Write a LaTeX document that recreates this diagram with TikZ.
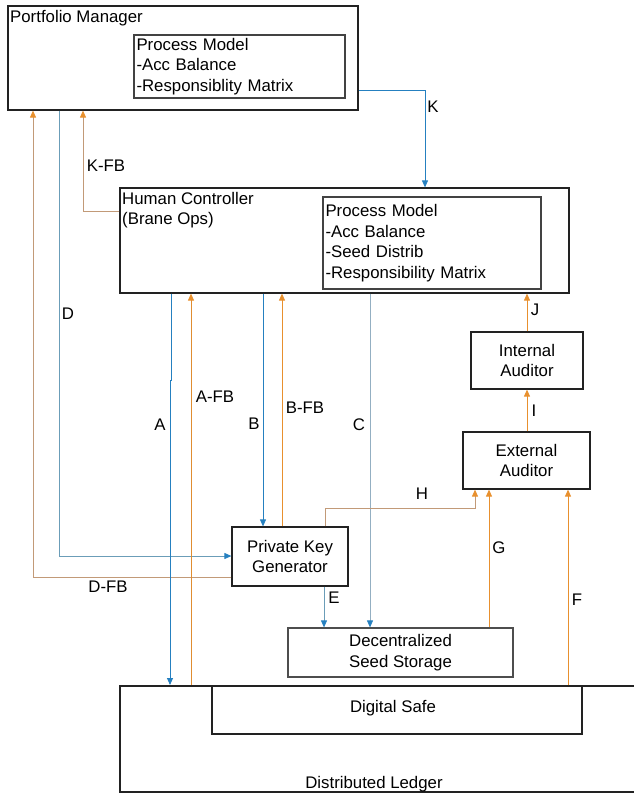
\documentclass[tikz,border=0pt]{standalone}
\usepackage{fontspec}
\setmainfont{Liberation Sans}
\usetikzlibrary{arrows.meta}
\definecolor{ctlblue}{HTML}{2580C0}
\definecolor{steel}{HTML}{6B9DB8}
\definecolor{greyblue}{HTML}{93AFC2}
\definecolor{fborange}{HTML}{E8902E}
\definecolor{tan}{HTML}{C29A78}
\definecolor{boxline}{HTML}{222222}
\tikzset{
  box/.style={draw=boxline, line width=1.2pt, rectangle, inner sep=2pt, align=center, font=\fontsize{16.8}{20.5}\selectfont},
  inbox/.style={draw=boxline!85, line width=1.1pt, rectangle, inner sep=2pt, align=left, font=\fontsize{16.8}{20.5}\selectfont},
  lbl/.style={font=\fontsize{16.8}{20}\selectfont, inner sep=0pt},
  ctl/.style={line width=0.85pt, -{Triangle[length=7pt,width=6pt,color=ctlblue]}},
  fb/.style={line width=0.85pt, -{Triangle[length=7pt,width=6pt,color=fborange]}},
}
\begin{document}
\begin{tikzpicture}[x=1pt,y=-1pt]
\useasboundingbox (0,0) rectangle (634,793);
% boxes
\node[box, minimum width=350pt, minimum height=104pt] (pm) at (183,58) {};
\node[lbl, anchor=north west] (pmt) at (10,10) {Portfolio Manager};
\node[inbox, minimum width=211pt, minimum height=63pt, text width=206pt] (pmin) at (239.5,66.5) {Process Model\\-Acc Balance\\-Responsiblity Matrix};
\node[box, minimum width=449pt, minimum height=105pt] (hc) at (344.5,240.5) {};
\node[lbl, anchor=north west, align=left, font=\fontsize{16.8}{20.5}\selectfont] (hct) at (122,192) {Human Controller\\(Brane Ops)};
\node[inbox, minimum width=218pt, minimum height=92pt, text width=213pt] (hcin) at (432,243) {Process Model\\-Acc Balance\\-Seed Distrib\\-Responsibility Matrix\\[3pt]};
\node[box, minimum width=112pt, minimum height=57pt] (ia) at (527,360.5) {Internal\\Auditor};
\node[box, minimum width=127pt, minimum height=57pt] (ea) at (526.5,460.5) {External\\Auditor};
\node[box, minimum width=116pt, minimum height=59pt] (pkg) at (290,556.5) {Private Key\\Generator};
\node[box, draw=boxline!80, minimum width=225pt, minimum height=49pt] (dss) at (400.5,652.5) {Decentralized\\Seed Storage};
\node[box, line width=2pt, minimum width=520pt, minimum height=106pt] (dl) at (380,739) {};
\node[lbl] (dlt) at (374,784) {Distributed Ledger};
\node[box, minimum width=370pt, minimum height=48pt] (ds) at (397,710) {};
\node[lbl] (dst) at (393,708) {Digital Safe};
% connectors
\draw[ctl, ctlblue] (pm.east |- 0,90) -- (425,90) -- (hc.north -| 425,0);
\node[lbl] (lk) at (433,107) {K};
\draw[fb, tan] (hc.west |- 0,211) -- (83,211) -- (pm.south -| 83,0);
\node[lbl] (lkfb) at (106,166) {K-FB};
\draw[fb, tan] (pkg.west |- 0,577) -- (33,577) -- (pm.south -| 33,0);
\node[lbl] (ldfb) at (108,587) {D-FB};
\draw[ctl, steel] (pm.south -| 59,0) -- (59,556) -- (pkg.west |- 0,556);
\node[lbl] (ld) at (68,314) {D};
\draw[ctl, ctlblue] (hc.south -| 171,0) -- (171,380) -- (170,380) -- (dl.north -| 170,0);
\node[lbl] (la) at (160,425) {A};
\draw[fb, fborange!80!brown] (dl.north -| 191,0) -- (hc.south -| 191,0);
\node[lbl] (lafb) at (215,397) {A-FB};
\draw[ctl, ctlblue] (hc.south -| 263,0) -- (pkg.north -| 263,0);
\node[lbl] (lb) at (254,424) {B};
\draw[fb, fborange] (pkg.north -| 282,0) -- (hc.south -| 282,0);
\node[lbl] (lbfb) at (305,408) {B-FB};
\draw[ctl, greyblue] (hc.south -| 370,0) -- (dss.north -| 370,0);
\node[lbl] (lc) at (359,425) {C};
\draw[ctl, steel] (pkg.south -| 324,0) -- (dss.north -| 324,0);
\node[lbl] (le) at (334,598) {E};
\draw[fb, tan] (pkg.north -| 325,0) -- (325,508) -- (475,508) -- (ea.south -| 475,0);
\node[lbl] (lh) at (422,494) {H};
\draw[fb, fborange] (dss.north -| 489,0) -- (ea.south -| 489,0);
\node[lbl] (lg) at (499,548) {G};
\draw[fb, fborange] (dl.north -| 568,0) -- (ea.south -| 568,0);
\node[lbl] (lf) at (577,600) {F};
\draw[fb, fborange] (ea.north -| 527,0) -- (ia.south -| 527,0);
\node[lbl] (li) at (534,411) {I};
\draw[fb, fborange] (ia.north -| 527,0) -- (hc.south -| 527,0);
\node[lbl] (lj) at (535,310) {J};
\end{tikzpicture}
\end{document}
